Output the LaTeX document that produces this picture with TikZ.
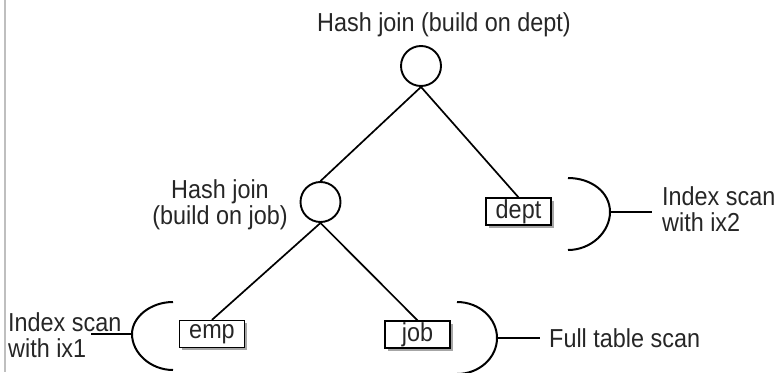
\documentclass[tikz,border=0pt]{standalone}
\usepackage{fontspec}
\setmainfont{Liberation Sans}[FakeStretch=0.9]
\usetikzlibrary{shadows}
\begin{document}
\begin{tikzpicture}[x=1pt,y=-1pt,
  lbl/.style={font=\fontsize{26}{26}\selectfont, inner sep=0pt, text=black!85},
  joinnode/.style={circle, draw, line width=1.9pt, minimum size=40pt, inner sep=0pt},
  tbl/.style={draw, line width=1.3pt, fill=white, minimum width=65pt, minimum height=27pt, inner sep=0pt,
     font=\fontsize{26}{26}\selectfont, text=black!85,
     general shadow={shadow xshift=2.5pt, shadow yshift=-2.5pt, fill=black!35}},
  edge/.style={line width=1.7pt},
  brk/.style={line width=2pt}]
\useasboundingbox (0,0) rectangle (776,372);
\draw[line width=2.5pt, black!25] (5,0) -- (5,372);

% join nodes and tables
\node[joinnode] (top) at (421,66) {};
\node[joinnode] (mid) at (320.5,202) {};
\node[tbl] (dept) at (518.5,211.5) {dept};
\node[tbl] (emp) at (212,334) {emp};
\node[tbl] (job) at (417.5,334.5) {job};

% labels
\node[lbl, anchor=base] (t1) at (444,31) {Hash join (build on dept)};
\node[lbl, align=center] (t2) at (220,205) {Hash join\\(build on job)};
\node[lbl, align=left, anchor=west] (l1) at (8,335.5) {Index scan\\with ix1};
\node[lbl, align=left, anchor=west] (l2) at (662,209.5) {Index scan\\with ix2};
\node[lbl, anchor=west] (l3) at (549,338) {Full table scan};

% tree edges
\draw[edge] (top.south) -- (mid.north);
\draw[edge] (top.south) -- (dept.north);
\draw[edge] (mid.south) -- (emp.north);
\draw[edge] (mid.south) -- (job.north);

% brackets
\coordinate (b1) at (132,334);
\coordinate (b1end) at (91,334);
\draw[brk] (173,302) .. controls (150.4,302) and (132,317.2) .. (b1)
            .. controls (132,352.8) and (150.4,370) .. (173,370);
\draw[edge] (b1) -- (b1end);

\coordinate (b2) at (497,338);
\draw[brk] (457,302) .. controls (479.1,302) and (497,318.1) .. (b2)
            .. controls (497,357.9) and (479.1,374) .. (457,374);
\draw[edge] (b2) -- ([xshift=-9pt]l3.west);

\coordinate (b3) at (610,212);
\draw[brk] (568,178) .. controls (591.2,178) and (610,192.1) .. (b3)
            .. controls (610,231.9) and (591.2,250) .. (568,250);
\draw[edge] (b3) -- ([xshift=-10pt]b3 -| l2.west);
\end{tikzpicture}
\end{document}
